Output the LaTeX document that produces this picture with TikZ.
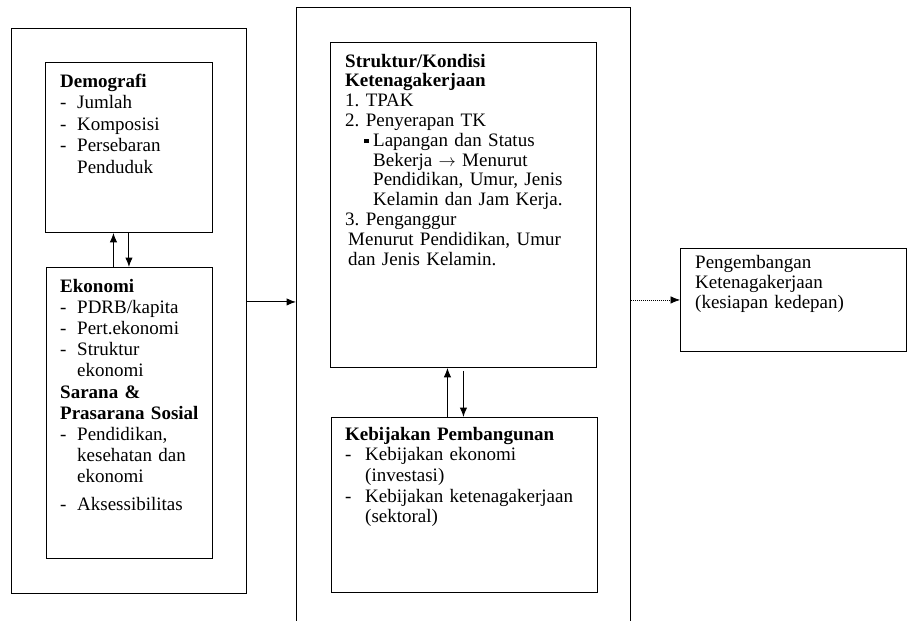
\documentclass[tikz,border=0pt]{standalone}
\usepackage{fontspec}
\setmainfont{Liberation Serif}
\usetikzlibrary{positioning,arrows.meta}
\newcommand{\itm}[2][17pt]{\makebox[#1][l]{-}#2}
\newcommand{\sqbul}{\makebox[9pt][l]{\rule[3pt]{4.5pt}{4.5pt}}}

\begin{document}
\frenchspacing
\begin{tikzpicture}[x=1pt, y=-1pt,
  box/.style={draw, line width=0.9pt, anchor=north west, inner sep=0},
  txt/.style={anchor=base west, inner sep=0, text width=250pt, align=left,
    font=\fontsize{19}{21.2}\selectfont},
  arr/.style={arrows=-{Latex[length=9.5pt, width=7.5pt]}, line width=1pt}]
\useasboundingbox (0,0) rectangle (908,621);
\clip (0,0) rectangle (908,621);
% boxes
\node (outl)[box, minimum width=235pt, minimum height=565pt] at (11,28) {};
\node (demo)[box, minimum width=167pt, minimum height=170pt] at (45,62) {};
\node (eko)[box, minimum width=166pt, minimum height=291pt] at (46,267) {};
\node (outm)[box, minimum width=334pt, minimum height=640pt] at (296,7) {};
\node (strk)[box, minimum width=266pt, minimum height=325pt] at (330,42) {};
\node (kebj)[box, minimum width=266pt, minimum height=175pt] at (331,417) {};
\node (pngb)[box, minimum width=226pt, minimum height=103pt] at (680,248) {};
% texts
\node (demotxt)[txt, font=\fontsize{19}{21.5}\selectfont] at ([shift={(15,25)}]demo.north west) {%
\textbf{Demografi}\\
\itm{Jumlah}\\
\itm{Komposisi}\\
\itm{Persebaran}\\
\hspace*{17pt}Penduduk};
\node (ekotxt)[txt] at ([shift={(14,25)}]eko.north west) {%
\textbf{Ekonomi}\\
\itm{PDRB/kapita}\\
\itm{Pert.ekonomi}\\
\itm{Struktur}\\
\hspace*{17pt}ekonomi\\
\textbf{Sarana \&}\\
\textbf{Prasarana Sosial}\\
\itm{Pendidikan,}\\
\hspace*{17pt}kesehatan dan\\
\hspace*{17pt}ekonomi\\[6pt]
\itm{Aksessibilitas}};
\node (strktxt)[txt, font=\fontsize{19}{19.8}\selectfont] at ([shift={(15,25)}]strk.north west) {%
\textbf{Struktur/Kondisi}\\
\textbf{Ketenagakerjaan}\\
1. TPAK\\
2. Penyerapan TK\\
\hspace*{19pt}\sqbul Lapangan dan Status\\
\hspace*{28pt}Bekerja $\rightarrow$ Menurut\\
\hspace*{28pt}Pendidikan, Umur, Jenis\\
\hspace*{28pt}Kelamin dan Jam Kerja.\\
3. Penganggur\\
\hspace*{3pt}Menurut Pendidikan, Umur\\
\hspace*{3pt}dan Jenis Kelamin.};
\node (kebjtxt)[txt, font=\fontsize{19}{20.7}\selectfont] at ([shift={(14,23)}]kebj.north west) {%
\textbf{Kebijakan Pembangunan}\\
\itm[20pt]{Kebijakan ekonomi}\\
\hspace*{20pt}(investasi)\\
\itm[20pt]{Kebijakan ketenagakerjaan}\\
\hspace*{20pt}(sektoral)};
\node (pngbtxt)[txt, font=\fontsize{19}{20}\selectfont] at ([shift={(15,20)}]pngb.north west) {%
Pengembangan\\
Ketenagakerjaan\\
(kesiapan kedepan)};
% connectors
\draw[arr] ([xshift=-16pt]eko.north) -- ([xshift=-16pt]eko.north |- demo.south);
\draw[arr] (demo.south) -- (demo.south |- eko.north);
\draw[arr] ([xshift=-17pt]kebj.north) -- ([xshift=-17pt]kebj.north |- strk.south);
\draw[arr] ([yshift=-3pt]strk.south) -- (strk.south |- kebj.north);
\draw[arr] ([yshift=9pt]outl.east) -- ([yshift=9pt]outl.east -| outm.west);
\draw[arr, densely dotted, line width=0.6pt] (outm.east |- pngb.west) -- (pngb.west);
\end{tikzpicture}
\end{document}
